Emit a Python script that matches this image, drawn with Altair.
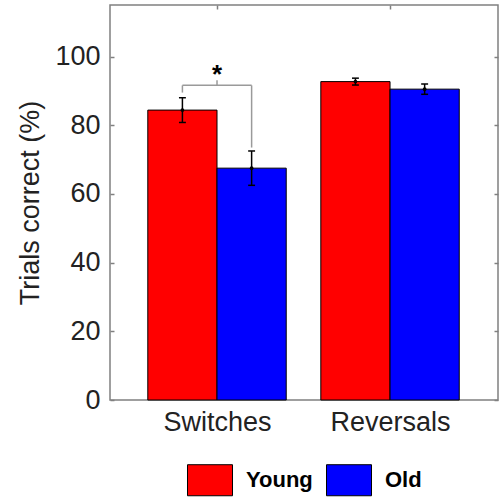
import altair as alt
import pandas as pd

categories = ["Switches", "Reversals"]
groups = ["Young", "Old"]
young_mean = [84.4, 92.7]
young_err = [3.6, 1.0]
old_mean = [67.5, 90.5]
old_err = [5.0, 1.5]
colors = ["#ff0000", "#0000ff"]

# significance annotation (Switches: Young vs Old)
bracket_top = 91.6
bracket_left_bottom = 89.5
bracket_right_bottom = 73.5
bracket_mid_top = 93.1
star_y = 96.4
star_text = "*"

FONT = "Liberation Sans"
HALF = 0.2  # half bar width in category units

rows = []
for ci, cat in enumerate(categories):
    for gi, (g, means, errs) in enumerate(zip(groups, [young_mean, old_mean], [young_err, old_err])):
        xc = ci + 1 + (-HALF if gi == 0 else HALF)
        rows.append({
            "category": cat, "group": g, "mean": means[ci], "err": errs[ci],
            "xc": xc, "x0": xc - HALF, "x1": xc + HALF,
            "lo": means[ci] - errs[ci], "hi": means[ci] + errs[ci],
            "c0": xc - 0.02, "c1": xc + 0.02,
        })
df = pd.DataFrame(rows)

xl = df[(df.category == categories[0]) & (df.group == groups[0])].xc.iloc[0]
xr = df[(df.category == categories[0]) & (df.group == groups[1])].xc.iloc[0]
xm = 1.0
br_h = pd.DataFrame([{"x": xl, "x2": xr, "y": bracket_top, "y2": bracket_top}])
br_v = pd.DataFrame([
    {"x": xl, "y": bracket_left_bottom, "y2": bracket_top},
    {"x": xr, "y": bracket_right_bottom, "y2": bracket_top},
    {"x": xm, "y": bracket_top, "y2": bracket_mid_top},
])
star_df = pd.DataFrame([{"x": xm, "y": star_y, "t": star_text}])

xscale = alt.Scale(domain=[0.3815, 2.624], nice=False, zero=False)
yscale = alt.Scale(domain=[0, 115], nice=False)

label_expr = " : ".join(
    [f"datum.value == {i+1} ? '{c}'" for i, c in enumerate(categories[:-1])] + [f"'{categories[-1]}'"]
)

bars = alt.Chart(df).mark_rect(stroke="black", strokeWidth=1).encode(
    x=alt.X("x0:Q", scale=xscale, axis=alt.Axis(
        values=[1, 2], labelExpr=label_expr, ticks=False, domain=False, grid=False,
        labelFontSize=27, labelFont=FONT, labelColor="#222222", labelPadding=9, title=None,
        orient="bottom")),
    x2="x1:Q",
    y=alt.Y("mean:Q", scale=yscale, axis=alt.Axis(
        values=[0, 20, 40, 60, 80, 100], orient="left", offset=-4, tickSize=4,
        tickColor="#808080", tickWidth=1.5, domain=False, grid=False,
        labelFontSize=27, labelFont=FONT, labelColor="#222222", labelPadding=10,
        title="Trials correct (%)", titleFontSize=27, titleFont=FONT,
        titleFontWeight="normal", titleColor="#222222", titlePadding=10)),
    y2=alt.Y2(datum=0),
    color=alt.Color("group:N", scale=alt.Scale(domain=groups, range=colors), legend=alt.Legend(
        title=None, orient="none", direction="horizontal", legendX=77, legendY=452,
        symbolType="M-1,-0.69L1,-0.69L1,0.69L-1,0.69Z", symbolSize=2025,
        symbolStrokeColor="black", symbolStrokeWidth=1, symbolOpacity=1,
        labelFontSize=22, labelFontWeight="bold", labelFont=FONT, labelColor="black",
        labelOffset=13, columnPadding=11, padding=0, labelLimit=300)),
)

frame_axes = alt.Chart(df).mark_rule(opacity=0).encode(
    x=alt.X("xc:Q", scale=xscale, axis=alt.Axis(
        values=[1, 2], orient="top", offset=-4, tickSize=4, tickColor="#808080", tickWidth=1.5,
        labels=False, domain=False, grid=False, title=None)),
    y=alt.Y("mean:Q", scale=yscale, axis=alt.Axis(
        values=[0, 20, 40, 60, 80, 100], orient="right", offset=-4, tickSize=4,
        tickColor="#808080", tickWidth=1.5, labels=False, domain=False, grid=False, title=None)),
)

err = alt.Chart(df).mark_rule(color="black", strokeWidth=1.5).encode(
    x=alt.X("xc:Q", scale=xscale, axis=None),
    y=alt.Y("lo:Q", scale=yscale, axis=None),
    y2="hi:Q",
)
cap_lo = alt.Chart(df).mark_rule(color="black", strokeWidth=1.5).encode(
    x=alt.X("c0:Q", scale=xscale, axis=None), x2="c1:Q",
    y=alt.Y("lo:Q", scale=yscale, axis=None),
)
cap_hi = alt.Chart(df).mark_rule(color="black", strokeWidth=1.5).encode(
    x=alt.X("c0:Q", scale=xscale, axis=None), x2="c1:Q",
    y=alt.Y("hi:Q", scale=yscale, axis=None),
)
dots = alt.Chart(df).mark_point(filled=True, color="black", size=14, opacity=1).encode(
    x=alt.X("xc:Q", scale=xscale, axis=None),
    y=alt.Y("mean:Q", scale=yscale, axis=None),
)

bh = alt.Chart(br_h).mark_rule(color="#9a9a9a", strokeWidth=1.5).encode(
    x=alt.X("x:Q", scale=xscale, axis=None), x2="x2:Q",
    y=alt.Y("y:Q", scale=yscale, axis=None),
)
bv = alt.Chart(br_v).mark_rule(color="#9a9a9a", strokeWidth=1.5).encode(
    x=alt.X("x:Q", scale=xscale, axis=None),
    y=alt.Y("y:Q", scale=yscale, axis=None), y2="y2:Q",
)
star = alt.Chart(star_df).mark_text(font=FONT, fontSize=26, fontWeight="bold", color="black",
                                    baseline="middle", dy=6).encode(
    x=alt.X("x:Q", scale=xscale, axis=None),
    y=alt.Y("y:Q", scale=yscale, axis=None),
    text="t:N",
)

chart = alt.layer(bars, frame_axes, err, cap_lo, cap_hi, dots, bh, bv, star).resolve_axis(
    x="independent", y="independent"
).properties(
    width=388, height=395,
    autosize=alt.AutoSizeParams(type="none"),
    padding={"left": 110, "top": 5, "right": 2, "bottom": 104},
    background="white",
).configure_view(stroke="#808080", strokeWidth=1.5)

chart.save("out.html", embed_options={"renderer": "svg", "actions": False})
